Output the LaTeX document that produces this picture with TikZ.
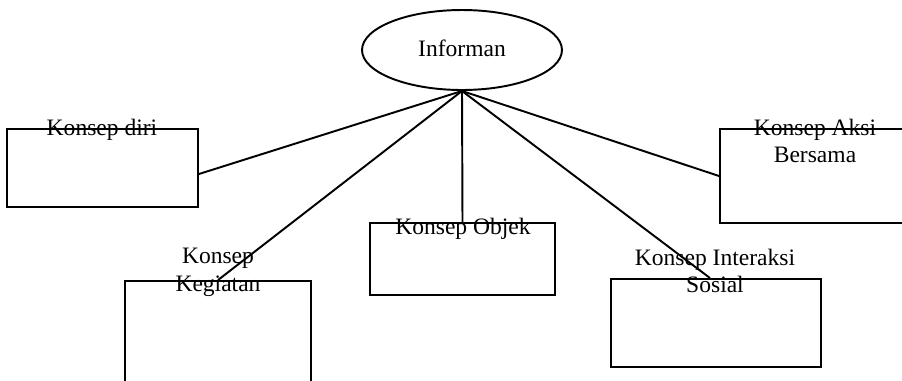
\documentclass[tikz,border=0pt]{standalone}
\usepackage{fontspec}
\setmainfont{Liberation Serif}
\usetikzlibrary{shapes.geometric}

\tikzset{
	konsep/.style={rectangle, draw, line width=1.1pt, inner sep=0pt},
	teks/.style={align=center, inner sep=0pt, font=\fontsize{13.4}{15.8}\selectfont},
	garis/.style={line width=1.1pt}
}

\begin{document}
\begin{tikzpicture}[x=0.02cm, y=-0.02cm]
		\useasboundingbox (0,0) rectangle (902,380);

		\node (informan) [ellipse, draw, line width=1.1pt, inner sep=0pt, minimum width=4cm, minimum height=1.6cm] at (462,50) {};
		\node[teks] (tinforman) at (462,48) {Informan};

		\node (diri) [konsep, minimum width=3.82cm, minimum height=1.56cm] at (102.5,168) {};
		\node (aksi) [konsep, minimum width=4.2cm, minimum height=1.88cm] at (825,176) {};
		\node (kegiatan) [konsep, minimum width=3.72cm, minimum height=2.36cm] at (218,340) {};
		\node (objek) [konsep, minimum width=3.7cm, minimum height=1.44cm] at (462.5,259) {};
		\node (interaksi) [konsep, minimum width=4.2cm, minimum height=1.76cm] at (716,323) {};

		\draw[garis] (informan.south) -- ([yshift=-0.12cm]diri.east);
		\draw[garis] (informan.south) -- (kegiatan.north);
		\draw[garis] (informan.south) -- (objek.north);
		\draw[garis] (informan.south) -- ([xshift=-0.12cm]interaksi.north);
		\draw[garis] (informan.south) -- (aksi.west);

		\node[teks] (tdiri) at (102,130) {Konsep diri};
		\node[teks] (taksi) at (815,141) {Konsep Aksi\\Bersama};
		\node[teks] (tkegiatan) at (218,272) {Konsep\\Kegiatan};
		\node[teks] (tobjek) at (463,229) {Konsep Objek};
		\node[teks] (tinteraksi) at (715,271) {Konsep Interaksi\\Sosial};
	\end{tikzpicture}
\end{document}
